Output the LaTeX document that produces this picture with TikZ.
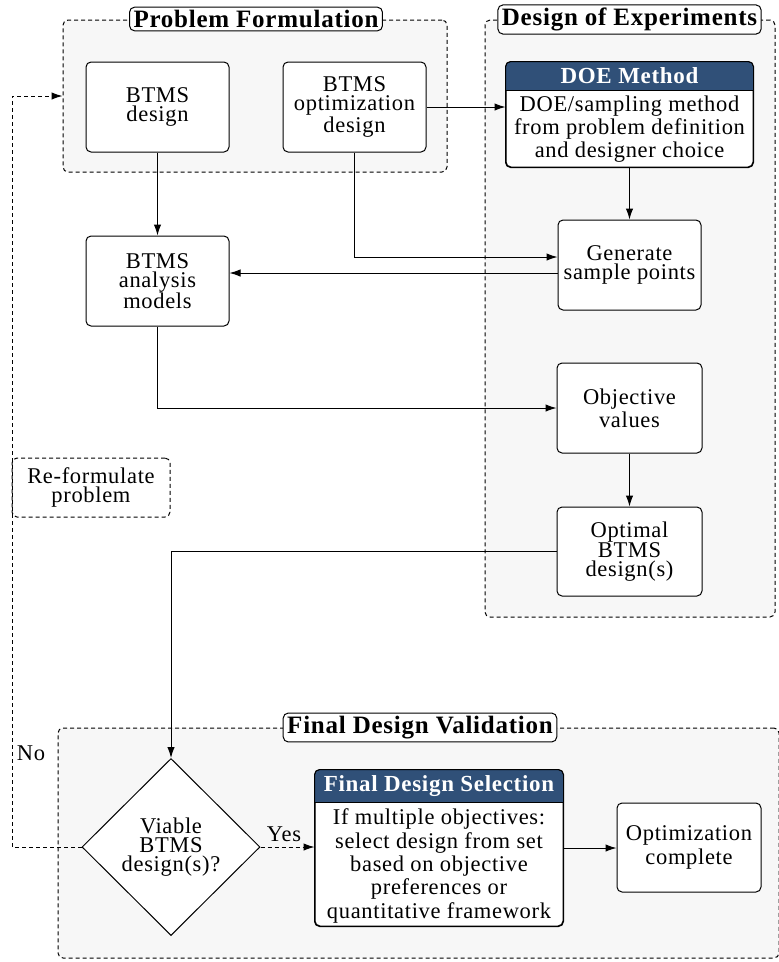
\documentclass[tikz,border=0pt]{standalone}
\usepackage{fontspec}
\setmainfont{Liberation Serif}[LetterSpace=3]
\usetikzlibrary{arrows.meta,shapes.geometric}
\definecolor{grpfill}{RGB}{247,247,247}
\definecolor{hdrblue}{RGB}{48,80,120}
\newcommand\bodyfont{\fontsize{22.5}{19}\selectfont}
\newcommand\widefont{\fontsize{22.5}{23.3}\selectfont}
\newcommand\titlefont{\fontsize{25}{26}\selectfont\bfseries}
\newcommand\headfont{\fontsize{23}{24}\selectfont\bfseries}
\tikzset{
  x=1pt,y=-1pt,
  every path/.style={line width=1pt},
  box/.style={draw,rounded corners=5pt,fill=white,align=center,font=\bodyfont,
    minimum width=143pt,minimum height=90pt,inner sep=0pt},
  group/.style={draw,dash pattern=on 4pt off 3pt,rounded corners=5pt,fill=grpfill,inner sep=0pt},
  grouptitle/.style={draw,rounded corners=5pt,fill=white,font=\titlefont,inner xsep=4pt,inner ysep=3pt},
  hdrtext/.style={font=\headfont,text=white},
  arr/.style={-{Latex[length=11pt,width=7.5pt]}},
  dsh/.style={dash pattern=on 4pt off 3pt},
}
\begin{document}
\begin{tikzpicture}
\useasboundingbox (0,0) rectangle (779,962);

% group panels
\node[group,minimum width=384pt,minimum height=152pt] (pf) at (255,96) {};
\node[group,minimum width=290pt,minimum height=597pt] (doeg) at (630,318.5) {};
\node[group,minimum width=721pt,minimum height=230pt] (fdv) at (418.5,843) {};
\node[grouptitle] (pft) at (256,19) {Problem Formulation};
\node[grouptitle] (doet) at (629.5,19.5) {Design of Experiments};
\node[grouptitle] (fdvt) at (420,727.5) {Final Design Validation};

% problem formulation
\node[box] (btmsd) at (157.5,107) {BTMS\\design};
\node[box] (btmso) at (354.5,107) {BTMS\\optimization\\design};
\node[box] (anal) at (157.5,281) {BTMS\\analysis\\models};

% DOE method box with header
\node[box,minimum width=247pt,minimum height=105pt] (doe) at (629.5,114.5) {};
\fill[hdrblue] (506,90) [rounded corners=5pt]-- (506,62) -- (753,62) [sharp corners]-- (753,90) -- cycle;
\draw (506,90) -- (753,90);
\draw[rounded corners=5pt] (doe.north west) rectangle (doe.south east);
\node[hdrtext] (doeh) at (629.5,76) {DOE Method};
\node[font=\widefont,align=center] (doeb) at (629.5,129) {DOE/sampling method\\from problem definition\\and designer choice};

\node[box] (gen) at (629.5,265) {Generate\\sample points};
\node[box,minimum width=145pt,font=\widefont] (obj) at (629.5,408) {Objective\\values};
\node[box,minimum width=145pt,minimum height=89pt] (opt) at (629.5,551.5) {Optimal\\BTMS\\design(s)};

\node[draw,dsh,rounded corners=5pt,align=center,font=\bodyfont,minimum width=158pt,minimum height=59pt,inner sep=0pt] (reform) at (91,487.5) {Re-formulate\\problem};

% final design validation
\node[draw,diamond,fill=white,minimum width=178pt,minimum height=177pt,inner sep=0pt,align=center,font=\bodyfont] (dia) at (171,847) {Viable\\BTMS\\design(s)?};

\node[box,minimum width=248pt,minimum height=156pt] (fds) at (439,848) {};
\fill[hdrblue] (315,802) [rounded corners=5pt]-- (315,770) -- (563,770) [sharp corners]-- (563,802) -- cycle;
\draw (315,802) -- (563,802);
\draw[rounded corners=5pt] (fds.north west) rectangle (fds.south east);
\node[hdrtext] (fdsh) at (439,786) {Final Design Selection};
\node[font=\widefont,align=center] (fdsb) at (439,866) {If multiple objectives:\\select design from set\\based on objective\\preferences or\\quantitative framework};

\node[box,minimum width=144pt,minimum height=89pt,font=\widefont] (done) at (689,847.5) {Optimization\\complete};

% labels
\node[font=\bodyfont] (nolbl) at (31,753) {No};
\node[font=\bodyfont] (yeslbl) at (284,834) {Yes};

% connectors
\coordinate (back) at (12,97);
\draw[arr] (btmso.east) -- (btmso.east -| doe.west);
\draw[arr] (doe.south) -- (gen.north);
\draw[arr] (btmso.south) |- ([yshift=8pt]gen.west);
\draw[arr] ([yshift=-8pt]gen.west) -- ([yshift=-8pt]gen.west -| anal.east);
\draw[arr] (btmsd.south) -- (anal.north);
\draw[arr] (anal.south) |- (obj.west);
\draw[arr] (obj.south) -- (opt.north);
\draw[arr] (opt.west) -| (dia.north);
\draw[arr,dsh] (dia.west) -| (back) |- (pf.west);
\draw[arr,dsh] (dia.east) -- (dia.east -| fds.west);
\draw[arr] (fds.east) -- (fds.east -| done.west);
\end{tikzpicture}
\end{document}
